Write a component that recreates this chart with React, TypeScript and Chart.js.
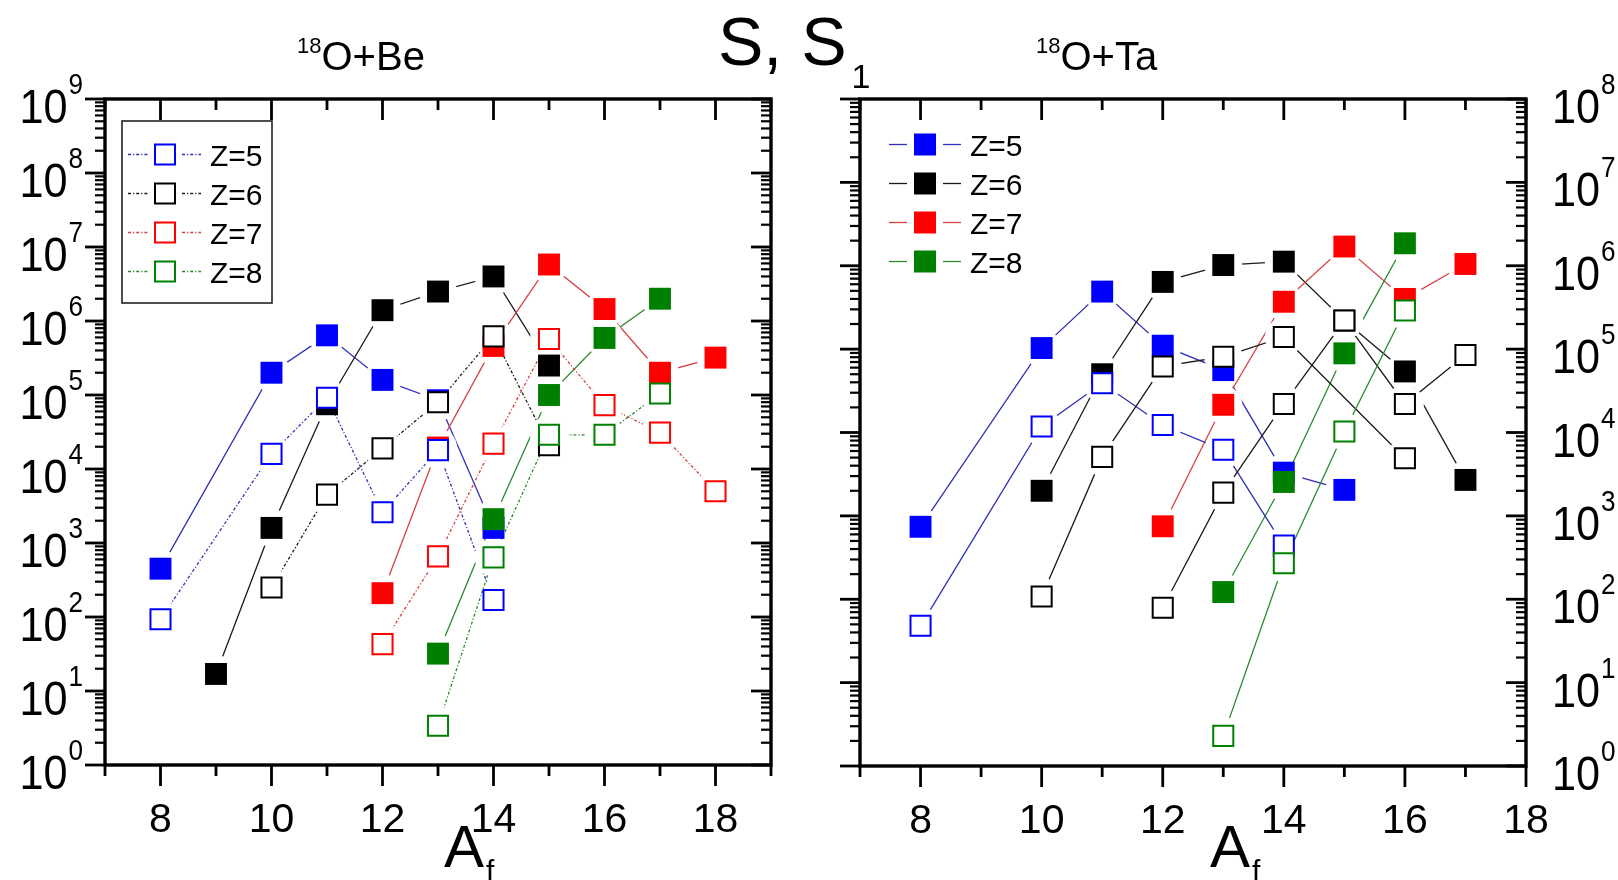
import React, { useEffect, useRef } from "react";
import { Chart, registerables } from "chart.js";

Chart.register(...registerables);

const W = 1618;
const H = 880;
const FONT = '"Liberation Sans", Arial, Helvetica, sans-serif';

// ---------------- 18O + Be : S (filled) ----------------
const beZ5A = [8, 10, 11, 12, 13, 14];
const beZ5S = [450, 2.0e5, 6.4e5, 1.6e5, 8.5e4, 1.6e3];
const beZ6A = [9, 10, 11, 12, 13, 14, 15];
const beZ6S = [17, 1.6e3, 7.5e4, 1.4e6, 2.5e6, 4.0e6, 2.5e5];
const beZ7A = [12, 13, 14, 15, 16, 17, 18];
const beZ7S = [210, 1.95e4, 4.6e5, 5.8e6, 1.45e6, 2.0e5, 3.2e5];
const beZ8A = [13, 14, 15, 16, 17];
const beZ8S = [32, 2.1e3, 1.0e5, 5.9e5, 2.0e6];

// ---------------- 18O + Be : S1 (open) ----------------
const beZ5S1A = [8, 10, 11, 12, 13, 14];
const beZ5S1 = [93, 1.6e4, 9.2e4, 2.6e3, 1.8e4, 170];
const beZ6S1A = [10, 11, 12, 13, 14, 15];
const beZ6S1 = [250, 4.5e3, 1.9e4, 8.0e4, 6.2e5, 2.1e4];
const beZ7S1A = [12, 13, 14, 15, 16, 17, 18];
const beZ7S1 = [43, 660, 2.2e4, 5.7e5, 7.3e4, 3.1e4, 5.0e3];
const beZ8S1A = [13, 14, 15, 16, 17];
const beZ8S1 = [3.4, 640, 2.9e4, 2.9e4, 1.05e5];

// ---------------- 18O + Ta : S (filled) ----------------
const taZ5A = [8, 10, 11, 12, 13, 14, 15];
const taZ5S = [740, 1.03e5, 4.9e5, 1.1e5, 5.6e4, 3.3e3, 2.05e3];
const taZ6A = [10, 11, 12, 13, 14, 15, 16, 17];
const taZ6S = [2.0e3, 5.0e4, 6.4e5, 1.02e6, 1.12e6, 2.2e5, 5.4e4, 2.7e3];
const taZ7A = [12, 13, 14, 15, 16, 17];
const taZ7S = [750, 2.15e4, 3.7e5, 1.7e6, 4.0e5, 1.05e6];
const taZ8A = [13, 14, 15, 16];
const taZ8S = [122, 2.55e3, 8.9e4, 1.86e6];

// ---------------- 18O + Ta : S1 (open) ----------------
const taZ5S1A = [8, 10, 11, 12, 13, 14];
const taZ5S1 = [48, 1.18e4, 3.9e4, 1.23e4, 6.2e3, 440];
const taZ6S1A = [10, 11, 12, 13, 14, 16];
const taZ6S1 = [108, 5.1e3, 6.2e4, 8.1e4, 1.4e5, 4.9e3];
const taZ7S1A = [12, 13, 14, 15, 16, 17];
const taZ7S1 = [79, 1.9e3, 2.2e4, 2.2e5, 2.2e4, 8.5e4];
const taZ8S1A = [13, 14, 15, 16];
const taZ8S1 = [2.3, 270, 1.03e4, 2.9e5];

const legendLabels = ["Z=5", "Z=6", "Z=7", "Z=8"];
const xTickLabels = [8, 10, 12, 14, 16, 18];

// ---------------- styles ----------------
const MARK = ["#0000ff", "#000000", "#ff0000", "#008000"];
const LINE = ["#3030b8", "#1a1a1a", "#d84040", "#2a8a2a"];
const DOT = [3, 2, 1.2, 2];

type Series = {
  label: string;
  a: number[];
  v: number[];
  color: string;
  line: string;
  open: boolean;
  dash: number[];
};

function mk(zi: number, a: number[], v: number[], open: boolean, dash: number[], colorIdx?: number): Series {
  const ci = colorIdx === undefined ? zi : colorIdx;
  return { label: legendLabels[zi], a, v, color: MARK[ci], line: LINE[ci], open, dash };
}

const beFilled = [
  mk(0, beZ5A, beZ5S, false, []),
  mk(1, beZ6A, beZ6S, false, []),
  mk(2, beZ7A, beZ7S, false, []),
  mk(3, beZ8A, beZ8S, false, []),
];
const beOpen = [
  mk(0, beZ5S1A, beZ5S1, true, DOT),
  mk(1, beZ6S1A, beZ6S1, true, DOT),
  mk(2, beZ7S1A, beZ7S1, true, DOT),
  mk(3, beZ8S1A, beZ8S1, true, DOT),
];
const taFilled = [
  mk(0, taZ5A, taZ5S, false, []),
  mk(1, taZ6A, taZ6S, false, []),
  mk(2, taZ7A, taZ7S, false, []),
  mk(3, taZ8A, taZ8S, false, []),
];
const taOpen = [
  mk(0, taZ5S1A, taZ5S1, true, []),
  mk(1, taZ6S1A, taZ6S1, true, []),
  mk(2, taZ7S1A, taZ7S1, true, [], 1),
  mk(3, taZ8S1A, taZ8S1, true, []),
];

function buildDatasets(filled: Series[], open: Series[]) {
  const pts = (s: Series) => s.a.map((a, i) => ({ x: a, y: s.v[i] }));
  const order = [...open.slice().reverse(), ...filled.slice().reverse()];
  const markers = order.map((s) => ({
    label: s.label + (s.open ? " S1" : " S"),
    data: pts(s),
    showLine: false,
    pointStyle: "rect",
    pointRadius: s.open ? 14.2 : 15.5,
    pointHoverRadius: s.open ? 14.2 : 15.5,
    pointBackgroundColor: s.open ? "#ffffff" : s.color,
    pointBorderColor: s.color,
    pointBorderWidth: s.open ? 2 : 0,
    borderColor: s.color,
    backgroundColor: s.color,
  }));
  const lines = order.map((s) => ({
    label: s.label + " line",
    data: pts(s),
    showLine: true,
    borderColor: s.line,
    borderWidth: 1.3,
    borderDash: s.dash,
    tension: 0,
    fill: false,
    pointStyle: "circle",
    pointRadius: 19,
    pointHoverRadius: 19,
    pointBackgroundColor: "#ffffff",
    pointBorderColor: "rgba(0,0,0,0)",
    pointBorderWidth: 0,
  }));
  return [...markers, ...lines];
}

const SX = 0.9; // horizontal compression of the y tick label font

const frameTicks = {
  id: "frameTicks",
  afterDraw(chart: any, _args: any, opts: any) {
    const { ctx, chartArea: ca } = chart;
    const xs = chart.scales.x;
    const ys = chart.scales.y;
    ctx.save();
    ctx.strokeStyle = "#000";
    ctx.fillStyle = "#000";
    ctx.lineCap = "butt";
    const seg = (x1: number, y1: number, x2: number, y2: number) => {
      ctx.beginPath();
      ctx.moveTo(x1, y1);
      ctx.lineTo(x2, y2);
      ctx.stroke();
    };
    // x ticks
    ctx.lineWidth = 2.8;
    for (let v = Math.ceil(xs.min); v <= xs.max; v++) {
      const px = xs.getPixelForValue(v);
      const len = v % 2 === 0 ? 21 : 11;
      seg(px, ca.bottom, px, ca.bottom + len);
      seg(px, ca.top, px, ca.top + len);
    }
    // y ticks
    const maxExp = Math.round(Math.log10(ys.max));
    for (let e = 0; e <= maxExp; e++) {
      const base = Math.pow(10, e);
      const py = ys.getPixelForValue(base);
      ctx.lineWidth = 2.8;
      seg(ca.left - 20, py, ca.left, py);
      seg(ca.right - 20, py, ca.right, py);
      if (e < maxExp) {
        ctx.lineWidth = 2.2;
        for (let k = 2; k <= 9; k++) {
          const pm = ys.getPixelForValue(k * base);
          seg(ca.left - 10, pm, ca.left, pm);
          seg(ca.right - 10, pm, ca.right, pm);
        }
      }
    }
    // frame
    ctx.lineWidth = 3.4;
    ctx.strokeRect(ca.left, ca.top, ca.right - ca.left, ca.bottom - ca.top);

    // x tick labels
    ctx.font = `41px ${FONT}`;
    ctx.textAlign = "center";
    ctx.textBaseline = "alphabetic";
    for (const t of opts.xLabels) {
      if (t < xs.min || t > xs.max) continue;
      ctx.fillText(String(t), xs.getPixelForValue(t), ca.bottom + 67);
    }
    // y tick labels 10^n (slightly condensed face)
    const drawScaled = (s: string, x: number, y: number) => {
      ctx.save();
      ctx.translate(x, y);
      ctx.scale(SX, 1);
      ctx.fillText(s, 0, 0);
      ctx.restore();
    };
    ctx.textAlign = "left";
    for (let e = 0; e <= maxExp; e++) {
      const py = ys.getPixelForValue(Math.pow(10, e));
      const base = py + 24;
      const supBase = py - 5;
      ctx.font = `48px ${FONT}`;
      const w10 = ctx.measureText("10").width * SX;
      ctx.font = `29px ${FONT}`;
      const wS = ctx.measureText(String(e)).width * SX;
      if (opts.ySide === "left") {
        const xr = ca.left - 22;
        ctx.font = `29px ${FONT}`;
        drawScaled(String(e), xr - wS, supBase);
        ctx.font = `48px ${FONT}`;
        drawScaled("10", xr - wS - 1 - w10, base);
      } else {
        const xl = ca.right + 26;
        ctx.font = `48px ${FONT}`;
        drawScaled("10", xl, base);
        ctx.font = `29px ${FONT}`;
        drawScaled(String(e), xl + w10 + 1, supBase);
      }
    }

    // legend
    const lg = opts.legend;
    if (lg) {
      if (lg.box) {
        ctx.lineWidth = 1.6;
        ctx.strokeStyle = "#222";
        const [x1, y1, x2, y2] = lg.box;
        ctx.strokeRect(x1, y1, x2 - x1, y2 - y1);
      }
      lg.entries.forEach((s: Series, i: number) => {
        const y = lg.y0 + i * lg.dy;
        ctx.strokeStyle = s.line;
        ctx.lineWidth = 1.3;
        ctx.setLineDash(s.dash);
        seg(lg.seg[0][0], y, lg.seg[0][1], y);
        seg(lg.seg[1][0], y, lg.seg[1][1], y);
        ctx.setLineDash([]);
        const half = 11;
        if (s.open) {
          ctx.fillStyle = "#fff";
          ctx.fillRect(lg.x - half, y - half, 2 * half, 2 * half);
          ctx.strokeStyle = s.color;
          ctx.lineWidth = 2;
          ctx.strokeRect(lg.x - half + 1, y - half + 1, 2 * half - 2, 2 * half - 2);
        } else {
          ctx.fillStyle = s.color;
          ctx.fillRect(lg.x - half, y - half, 2 * half, 2 * half);
        }
        ctx.fillStyle = "#000";
        ctx.font = `30px ${FONT}`;
        ctx.textAlign = "left";
        ctx.fillText(s.label, lg.textX, y + 11);
      });
    }
    ctx.restore();
  },
};

type PanelCfg = {
  padding: { left: number; top: number; right: number; bottom: number };
  xMax: number;
  yMax: number;
  ySide: string;
  filled: Series[];
  open: Series[];
  legend: any;
};

const leftCfg: PanelCfg = {
  padding: { left: 105, top: 99, right: W - 771, bottom: H - 765 },
  xMax: 19,
  yMax: 1e9,
  ySide: "left",
  filled: beFilled,
  open: beOpen,
  legend: {
    box: [122, 121, 272, 303],
    x: 165,
    y0: 154.5,
    dy: 39,
    seg: [
      [128, 148],
      [182, 201],
    ],
    textX: 210,
    entries: beOpen,
  },
};

const rightCfg: PanelCfg = {
  padding: { left: 860, top: 99, right: W - 1526, bottom: H - 766 },
  xMax: 18,
  yMax: 1e8,
  ySide: "right",
  filled: taFilled,
  open: taOpen,
  legend: {
    box: null,
    x: 925,
    y0: 144.5,
    dy: 39,
    seg: [
      [889, 907],
      [943, 961],
    ],
    textX: 970,
    entries: taFilled,
  },
};

function Panel({ cfg }: { cfg: PanelCfg }) {
  const ref = useRef<HTMLCanvasElement | null>(null);
  useEffect(() => {
    if (!ref.current) return;
    const chart = new Chart(ref.current, {
      type: "scatter",
      data: { datasets: buildDatasets(cfg.filled, cfg.open) as any },
      options: {
        responsive: false,
        animation: false,
        devicePixelRatio: 1,
        events: [],
        layout: { padding: cfg.padding },
        plugins: {
          legend: { display: false },
          tooltip: { enabled: false },
          title: { display: false },
          frameTicks: { ySide: cfg.ySide, xLabels: xTickLabels, legend: cfg.legend },
        } as any,
        scales: {
          x: { type: "linear", min: 7, max: cfg.xMax, display: false },
          y: { type: "logarithmic", min: 1, max: cfg.yMax, display: false },
        },
      },
      plugins: [frameTicks as any],
    });
    return () => chart.destroy();
  }, [cfg]);
  return (
    <canvas
      ref={ref}
      width={W}
      height={H}
      style={{ position: "absolute", left: 0, top: 0, width: W, height: H }}
    />
  );
}

const txt: React.CSSProperties = {
  position: "absolute",
  fontFamily: FONT,
  color: "#000",
  whiteSpace: "nowrap",
  lineHeight: 1,
};

export default function App() {
  return (
    <div
      style={{
        position: "absolute",
        left: 0,
        top: 0,
        width: W,
        height: H,
        overflow: "hidden",
        background: "#fff",
      }}
    >
      <Panel cfg={leftCfg} />
      <Panel cfg={rightCfg} />
      <div style={{ ...txt, left: 718, top: 7, fontSize: 68 }}>
        S, S
        <span style={{ fontSize: 34, position: "relative", top: 23, marginLeft: 5 }}>1</span>
      </div>
      <div style={{ ...txt, left: 297, top: 36, fontSize: 40 }}>
        <span style={{ fontSize: 22, position: "relative", top: -17 }}>18</span>O+Be
      </div>
      <div style={{ ...txt, left: 1036, top: 36, fontSize: 40 }}>
        <span style={{ fontSize: 22, position: "relative", top: -17 }}>18</span>O+Ta
      </div>
      <div style={{ ...txt, left: 444, top: 817, fontSize: 60 }}>
        A<span style={{ fontSize: 30, position: "relative", top: 14, marginLeft: 2 }}>f</span>
      </div>
      <div style={{ ...txt, left: 1210, top: 817, fontSize: 60 }}>
        A<span style={{ fontSize: 30, position: "relative", top: 14, marginLeft: 2 }}>f</span>
      </div>
    </div>
  );
}
